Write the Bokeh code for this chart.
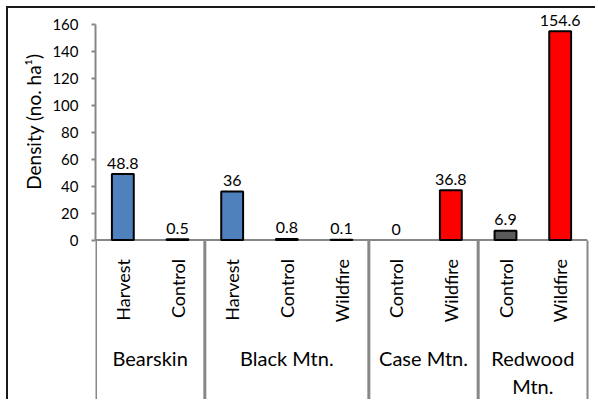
import math
from bokeh.plotting import figure
from bokeh.models import (ColumnDataSource, FactorRange, Span, FixedTicker, LinearAxis,
                          Range1d, Title)
from bokeh.core.properties import value
from bokeh.embed import file_html
from bokeh.resources import INLINE

# ---- data ----
sites = ["Bearskin", "Black Mtn.", "Case Mtn.", "Redwood Mtn."]
site_labels = ["Bearskin", "Black Mtn.", "Case Mtn.", "Redwood\nMtn."]
treatments = [["Harvest", "Control"],
              ["Harvest", "Control", "Wildfire"],
              ["Control", "Wildfire"],
              ["Control", "Wildfire"]]
densities = [[48.8, 0.5],
             [36, 0.8, 0.1],
             [0, 36.8],
             [6.9, 154.6]]
y_ticks = [0, 20, 40, 60, 80, 100, 120, 140, 160]
y_label = "Density (no. ha\u00b9)"
treatment_colors = {"Harvest": "#4F81BD", "Control": "#5A5A5A", "Wildfire": "#FF0000"}

# ---- layout constants ----
W, H = 589, 393
LEFT, RIGHT = 87, 10
Y0_PX, YTOP_PX = 231.5, 15.5
k = (Y0_PX - YTOP_PX) / (y_ticks[-1] - y_ticks[0])
y_end = y_ticks[-1] + YTOP_PX / k
y_start = -(H - Y0_PX) / k
GREY = "#878787"
FONT = "Lato"
TITLE_TOP_PX = 45   # top end of the rotated y-axis title, px below frame top

factors = [(s, t) for s, ts in zip(sites, treatments) for t in ts]
flat_vals = [v for vs in densities for v in vs]
flat_treat = [t for ts in treatments for t in ts]

x_range = FactorRange(factors=factors, group_padding=0, subgroup_padding=0,
                      factor_padding=0, range_padding=0)
p = figure(width=W, height=H, x_range=x_range, y_range=Range1d(y_start, y_end),
           output_backend="svg", toolbar_location=None, x_axis_location=None,
           min_border_left=LEFT, min_border_right=RIGHT,
           min_border_top=0, min_border_bottom=0)
p.outline_line_color = None
p.grid.visible = False
p.background_fill_color = "white"
p.border_fill_color = "white"
p.styles = {"margin-left": "6px", "margin-top": "6px",
            "border-left": "2px solid #1a1a1a", "border-top": "2px solid #1a1a1a"}

yax = p.yaxis[0]
yax.ticker = FixedTicker(ticks=y_ticks)
yax.bounds = (y_ticks[0], y_ticks[-1])
yax.axis_line_color = GREY
yax.axis_line_width = 2
yax.major_tick_line_color = GREY
yax.major_tick_line_width = 2
yax.major_tick_out = 4
yax.major_tick_in = 0
yax.minor_tick_out = 0
yax.minor_tick_in = 0
yax.major_label_text_font = FONT
yax.major_label_text_font_size = "15px"
yax.major_label_text_color = "#000000"
yax.major_label_standoff = 13

# y-axis title (left panel), its top end placed level with the top of the axis span
p.add_layout(Title(text=y_label, align="right", offset=TITLE_TOP_PX,
                   standoff=10, text_font=FONT, text_font_size="19px",
                   text_font_style="normal", text_color="#000000"), "left")

rax = LinearAxis(bounds=(y_start, 0), ticker=FixedTicker(ticks=[]),
                 axis_line_color=GREY, axis_line_width=2,
                 major_tick_out=0, major_tick_in=0, minor_tick_out=0, minor_tick_in=0,
                 major_label_text_font_size="0px", major_label_standoff=0)
p.add_layout(rax, "right")

p.add_layout(Span(location=0, dimension="width", line_color=GREY, line_width=2,
                  level="underlay"))

src = ColumnDataSource(dict(
    x=factors, top=flat_vals, treat=flat_treat,
    color=[treatment_colors[t] for t in flat_treat],
    la=[0 if v == 0 else 1 for v in flat_vals],
    label=[f"{v:g}" for v in flat_vals],
))
p.vbar(x="x", top="top", bottom=0, width=0.4, fill_color="color",
       line_color="black", line_width=2, line_alpha="la", source=src)

p.text(x="x", y="top", text="label", source=src, text_align="center",
       text_baseline="alphabetic", y_offset=-11, text_font=value(FONT),
       text_font_size="16px", text_color="black")

p.text(x="x", y=0, text="treat", source=src, angle=math.pi / 2,
       text_align="right", text_baseline="middle", y_offset=19,
       text_font=value(FONT), text_font_size="18px", text_color="black")

gsrc = ColumnDataSource(dict(x=sites, text=site_labels))
p.text(x="x", y=0, text="text", source=gsrc, text_align="center",
       text_baseline="top", y_offset=106, text_line_height=1.15,
       text_font=value(FONT), text_font_size="20px", text_color="black")

seps = [(s, ts[0], -0.5) for s, ts in zip(sites, treatments)]
p.segment(x0=seps, y0=0, x1=seps, y1=y_start, line_color=GREY, line_width=3)

open("out.html", "w").write(file_html(p, INLINE))
